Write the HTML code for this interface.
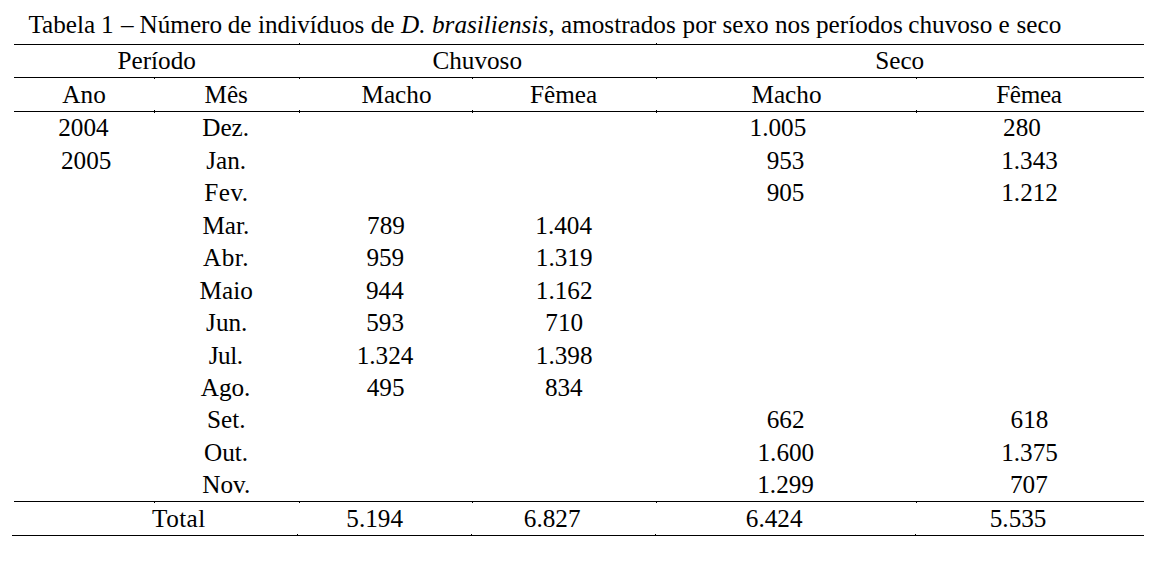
<!DOCTYPE html>
<html><head><meta charset="utf-8"><title>Tabela 1</title>
<style>
html,body{margin:0;padding:0;background:#fff;}
body{width:1165px;height:566px;position:relative;overflow:hidden;}
.t{position:absolute;font-family:"Liberation Serif",serif;font-size:25.2px;line-height:30px;white-space:nowrap;color:#000;}
.h{position:absolute;height:1px;background:#000;}
.v{position:absolute;width:1px;height:1px;background:#000;}
.v3{position:absolute;width:1px;height:3px;background:#000;}
</style></head><body>

<div class='h' style='left:14px;top:44px;width:1130px'></div>
<div class='v' style='left:299px;top:43px'></div>
<div class='v' style='left:656px;top:43px'></div>
<div class='h' style='left:14px;top:77px;width:1130px'></div>
<div class='v' style='left:154px;top:78px'></div>
<div class='v' style='left:299px;top:78px'></div>
<div class='v' style='left:472px;top:78px'></div>
<div class='v' style='left:656px;top:78px'></div>
<div class='v' style='left:916px;top:78px'></div>
<div class='h' style='left:14px;top:111px;width:1130px'></div>
<div class='v3' style='left:154px;top:110px'></div>
<div class='v3' style='left:299px;top:110px'></div>
<div class='v3' style='left:472px;top:110px'></div>
<div class='v3' style='left:656px;top:110px'></div>
<div class='v3' style='left:916px;top:110px'></div>
<div class='h' style='left:14px;top:501px;width:1130px'></div>
<div class='v' style='left:154px;top:502px'></div>
<div class='v' style='left:299px;top:502px'></div>
<div class='v' style='left:472px;top:502px'></div>
<div class='v' style='left:656px;top:502px'></div>
<div class='v' style='left:916px;top:502px'></div>
<div class='h' style='left:12px;top:535px;width:1132px'></div>
<div class='v' style='left:297px;top:534px'></div>
<div class='v' style='left:471px;top:534px'></div>
<div class='v' style='left:655px;top:534px'></div>
<div class='v' style='left:915px;top:534px'></div>

<div class='t' style='left:117.55px;top:46.00px;'>Período</div>
<div class='t' style='left:432.45px;top:46.00px;'>Chuvoso</div>
<div class='t' style='left:875.25px;top:46.00px;'>Seco</div>
<div class='t' style='left:62.35px;top:80.00px;'>Ano</div>
<div class='t' style='left:204.50px;top:80.00px;'>Mês</div>
<div class='t' style='left:361.55px;top:80.00px;'>Macho</div>
<div class='t' style='left:529.95px;top:80.00px;'>Fêmea</div>
<div class='t' style='left:751.55px;top:80.00px;'>Macho</div>
<div class='t' style='left:996.20px;top:80.00px;letter-spacing:-0.325px;'>Fêmea</div>
<div class='t' style='left:58.20px;top:113.00px;'>2004</div>
<div class='t' style='left:61.00px;top:146.00px;'>2005</div>
<div class='t' style='left:202.25px;top:113.00px;'>Dez.</div>
<div class='t' style='left:206.28px;top:146.00px;'>Jan.</div>
<div class='t' style='left:204.30px;top:178.00px;letter-spacing:0.467px;'>Fev.</div>
<div class='t' style='left:202.48px;top:211.00px;'>Mar.</div>
<div class='t' style='left:203.00px;top:243.00px;letter-spacing:0.500px;'>Abr.</div>
<div class='t' style='left:199.60px;top:276.00px;'>Maio</div>
<div class='t' style='left:206.10px;top:308.00px;'>Jun.</div>
<div class='t' style='left:208.70px;top:341.00px;letter-spacing:-0.433px;'>Jul.</div>
<div class='t' style='left:200.72px;top:373.00px;'>Ago.</div>
<div class='t' style='left:207.00px;top:405.00px;'>Set.</div>
<div class='t' style='left:204.00px;top:438.00px;'>Out.</div>
<div class='t' style='left:202.30px;top:470.00px;'>Nov.</div>
<div class='t' style='left:367.05px;top:211.00px;'>789</div>
<div class='t' style='left:366.40px;top:243.00px;'>959</div>
<div class='t' style='left:366.00px;top:276.00px;'>944</div>
<div class='t' style='left:366.25px;top:308.00px;'>593</div>
<div class='t' style='left:356.65px;top:341.00px;'>1.324</div>
<div class='t' style='left:366.75px;top:373.00px;'>495</div>
<div class='t' style='left:535.35px;top:211.00px;'>1.404</div>
<div class='t' style='left:535.85px;top:243.00px;'>1.319</div>
<div class='t' style='left:535.85px;top:276.00px;'>1.162</div>
<div class='t' style='left:545.30px;top:308.00px;'>710</div>
<div class='t' style='left:535.85px;top:341.00px;'>1.398</div>
<div class='t' style='left:544.90px;top:373.00px;'>834</div>
<div class='t' style='left:749.60px;top:113.00px;'>1.005</div>
<div class='t' style='left:766.65px;top:146.00px;'>953</div>
<div class='t' style='left:766.65px;top:178.00px;'>905</div>
<div class='t' style='left:766.75px;top:405.00px;'>662</div>
<div class='t' style='left:757.50px;top:438.00px;'>1.600</div>
<div class='t' style='left:757.25px;top:470.00px;'>1.299</div>
<div class='t' style='left:1003.10px;top:113.00px;'>280</div>
<div class='t' style='left:1001.20px;top:146.00px;'>1.343</div>
<div class='t' style='left:1001.25px;top:178.00px;'>1.212</div>
<div class='t' style='left:1010.55px;top:405.00px;'>618</div>
<div class='t' style='left:1001.20px;top:438.00px;'>1.375</div>
<div class='t' style='left:1010.00px;top:470.00px;'>707</div>
<div class='t' style='left:152.10px;top:504.00px;letter-spacing:0.425px;'>Total</div>
<div class='t' style='left:346.30px;top:504.00px;'>5.194</div>
<div class='t' style='left:523.85px;top:504.00px;'>6.827</div>
<div class='t' style='left:745.80px;top:504.00px;'>6.424</div>
<div class='t' style='left:989.75px;top:504.00px;'>5.535</div>
<div class='t' style='left:28.40px;top:10.00px;'>Tabela</div>
<div class='t' style='left:100.90px;top:10.00px;'>1</div>
<div class='t' style='left:121.00px;top:10.00px;'>–</div>
<div class='t' style='left:139.50px;top:10.00px;'>Número</div>
<div class='t' style='left:227.70px;top:10.00px;'>de</div>
<div class='t' style='left:258.00px;top:10.00px;'>indivíduos</div>
<div class='t' style='left:370.70px;top:10.00px;'>de</div>
<div class='t' style='left:401.00px;top:10.00px;font-style:italic;'>D.</div>
<div class='t' style='left:561.00px;top:10.00px;'>amostrados</div>
<div class='t' style='left:682.60px;top:10.00px;'>por</div>
<div class='t' style='left:722.50px;top:10.00px;'>sexo</div>
<div class='t' style='left:775.00px;top:10.00px;'>nos</div>
<div class='t' style='left:816.00px;top:10.00px;'>períodos</div>
<div class='t' style='left:908.30px;top:10.00px;'>chuvoso</div>
<div class='t' style='left:998.50px;top:10.00px;'>e</div>
<div class='t' style='left:1016.50px;top:10.00px;'>seco</div>
<div class='t' style='left:432.00px;top:10.00px'><i>brasiliensis</i>,</div>

</body></html>
